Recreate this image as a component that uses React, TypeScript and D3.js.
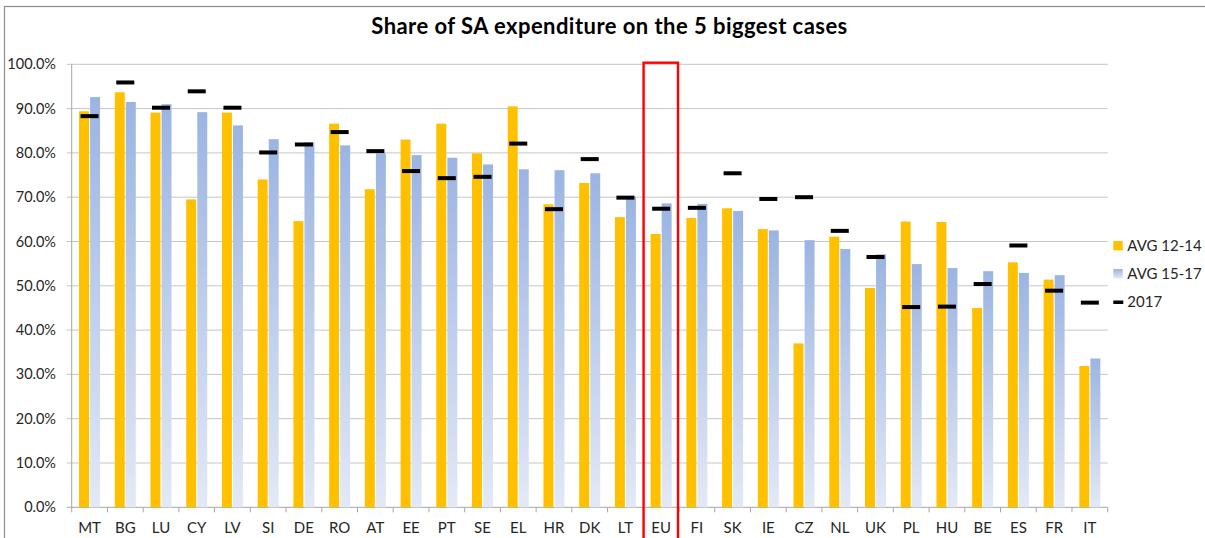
import React from "react";
import * as d3 from "d3";

const categories = ["MT","BG","LU","CY","LV","SI","DE","RO","AT","EE","PT","SE","EL","HR","DK","LT","EU","FI","SK","IE","CZ","NL","UK","PL","HU","BE","ES","FR","IT"];
const avg1214 = [89.4,93.7,89.1,69.5,89.1,74.0,64.6,86.6,71.8,83.0,86.6,79.9,90.5,68.4,73.2,65.5,61.7,65.3,67.5,62.8,37.0,61.1,49.5,64.5,64.4,45.0,55.3,51.4,31.9];
const avg1517 = [92.6,91.5,91.0,89.2,86.2,83.1,82.4,81.7,79.9,79.5,78.9,77.4,76.3,76.1,75.4,70.1,68.6,68.5,66.9,62.5,60.3,58.3,57.1,54.9,54.0,53.3,52.9,52.4,33.6];
const y2017 = [88.3,95.9,90.2,93.9,90.2,80.1,81.9,84.7,80.4,75.9,74.3,74.6,82.1,67.3,78.6,69.9,67.4,67.6,75.4,69.6,70.0,62.4,56.5,45.2,45.3,50.4,59.1,48.9,46.2];
const yTicks = [0,10,20,30,40,50,60,70,80,90,100];
const seriesNames = ["AVG 12-14","AVG 15-17","2017"];
const highlight = "EU";

const W = 1205, H = 538;
const plot = { left: 71.7, right: 1107.7, top: 64.3, bottom: 507.3 };
const FONT = "Lato, 'Liberation Sans', sans-serif";

export default function App() {
  const x = d3.scaleBand<string>().domain(categories).range([plot.left, plot.right]).padding(0);
  const y = d3.scaleLinear().domain([0, 100]).range([plot.bottom, plot.top]);
  const bw = x.bandwidth();
  const sub = d3.scaleBand<string>().domain(["a", "b"]).range([bw / 2 - 10.5, bw / 2 + 10.5]).paddingInner(0.1);
  const boundaries = d3.range(categories.length + 1).map((i) => plot.left + i * bw);
  const hx = x(highlight)!;

  return (
    <svg width={W} height={H} style={{ position: "absolute", left: 0, top: 0 }} fontFamily={FONT}>
      <defs>
        <linearGradient id="blueGrad" x1="0" y1="0" x2="0" y2="1">
          <stop offset="0" stopColor="#9bb4e2" />
          <stop offset="1" stopColor="#e3e9f6" />
        </linearGradient>
      </defs>
      <rect x={0} y={0} width={W} height={H} fill="#fff" />
      <rect x={4.5} y={6.5} width={W} height={H} fill="none" stroke="#8c8c8c" strokeWidth={1.2} />
      <text x={609.5} y={34} textAnchor="middle" fontSize={22} letterSpacing={0.45} fontWeight="bold" fill="#000">
        Share of SA expenditure on the 5 biggest cases
      </text>
      {yTicks.map((t) => (
        <g key={t}>
          <line x1={plot.left - 5} x2={plot.right} y1={y(t)} y2={y(t)} stroke={t === 0 ? "#a6a6a6" : "#c6c6c6"} strokeWidth={1} />
          <text x={56} y={y(t)} dy="0.35em" textAnchor="end" fontSize={14.5} fill="#262626">
            {d3.format(".1f")(t) + "%"}
          </text>
        </g>
      ))}
      <line x1={plot.left} x2={plot.left} y1={plot.top} y2={plot.bottom} stroke="#a6a6a6" />
      {boundaries.map((b, i) => (
        <line key={i} x1={b} x2={b} y1={plot.bottom} y2={plot.bottom + 5} stroke="#a6a6a6" />
      ))}
      {categories.map((c, i) => {
        const x0 = x(c)!;
        return (
          <g key={c}>
            <rect x={x0 + sub("a")!} y={y(avg1214[i])} width={sub.bandwidth()} height={y(0) - y(avg1214[i])} fill="#ffc000" />
            <rect x={x0 + sub("b")!} y={y(avg1517[i])} width={sub.bandwidth()} height={y(0) - y(avg1517[i])} fill="url(#blueGrad)" />
          </g>
        );
      })}
      {categories.map((c, i) => (
        <rect key={c} x={x(c)! + bw / 2 - 9} y={y(y2017[i]) - 2} width={18} height={4} fill="#000" />
      ))}
      {categories.map((c) => (
        <text key={c} x={x(c)! + bw / 2} y={533} textAnchor="middle" fontSize={15} fill="#262626">
          {c}
        </text>
      ))}
      <rect x={hx + 0.3} y={62.7} width={bw - 1.3} height={H} fill="none" stroke="#ff0000" strokeWidth={2.4} />
      <rect x={1113.3} y={241} width={9.4} height={9.4} fill="#ffc000" />
      <text x={1127.3} y={251} fontSize={15} fill="#262626">{seriesNames[0]}</text>
      <rect x={1113.3} y={269} width={9.4} height={9.4} fill="url(#blueGrad)" />
      <text x={1127.3} y={279} fontSize={15} fill="#262626">{seriesNames[1]}</text>
      <rect x={1113.3} y={300.5} width={10} height={3.5} fill="#000" />
      <text x={1127.3} y={307} fontSize={15} fill="#262626">{seriesNames[2]}</text>
    </svg>
  );
}
